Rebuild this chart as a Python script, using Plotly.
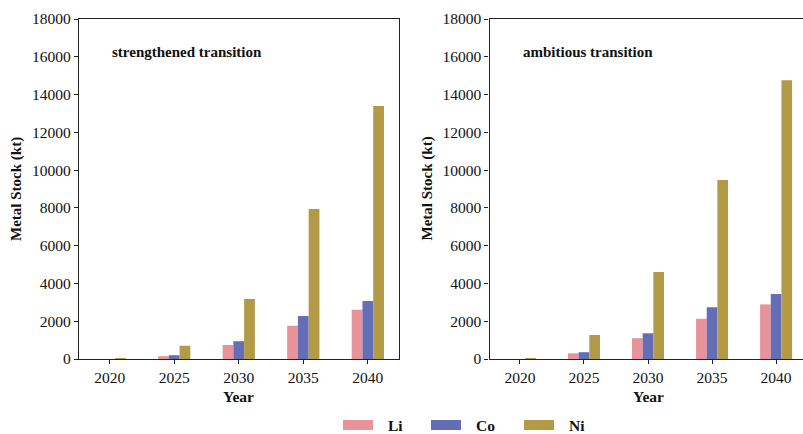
import plotly.graph_objects as go

# Metal stock (kt) by year for two transition scenarios
years = ["2020", "2025", "2030", "2035", "2040"]
metals = ["Li", "Co", "Ni"]
colors = ["#E8939A", "#636EB7", "#B39A46"]

strengthened_li = [0, 150, 740, 1760, 2610]
strengthened_co = [0, 200, 940, 2270, 3070]
strengthened_ni = [30, 700, 3180, 7940, 13390]

ambitious_li = [0, 300, 1100, 2130, 2890]
ambitious_co = [0, 360, 1360, 2740, 3440]
ambitious_ni = [30, 1270, 4600, 9480, 14760]

panels = [
    ("strengthened transition", [strengthened_li, strengthened_co, strengthened_ni]),
    ("ambitious transition", [ambitious_li, ambitious_co, ambitious_ni]),
]

W, H = 803, 434
FONT = "Times New Roman, Liberation Serif, serif"
AX = "#222222"

fig = go.Figure()

# panel pixel boxes: (left, right, top, bottom)
boxes = [(79, 398.5, 19, 359), (489.5, 803, 19, 359)]
xranges = [[-0.475, 4.475], [-0.475, 4.42]]

for i, ((title, series), box) in enumerate(zip(panels, boxes)):
    n = "" if i == 0 else str(i + 1)
    for metal, vals, col in zip(metals, series, colors):
        fig.add_trace(go.Bar(
            x=years, y=vals, name=metal, marker=dict(color=col, line=dict(width=0)),
            xaxis="x" + n, yaxis="y" + n, showlegend=False,
            offsetgroup=metal,
        ))
    l, r, t, b = box
    fig.layout["xaxis" + n] = dict(
        domain=[l / W, r / W], anchor="y" + n, type="category",
        range=xranges[i], showgrid=False, zeroline=False, automargin=False,
        showline=True, linecolor=AX, linewidth=1.2, mirror=True,
        ticks="outside", ticklen=4, tickcolor=AX, tickwidth=1,
        tickfont=dict(family=FONT, size=15.5, color="#111"),
    )
    fig.layout["yaxis" + n] = dict(
        domain=[1 - b / H, 1 - t / H], anchor="x" + n,
        range=[0, 18000], dtick=2000, tickformat="d",
        showgrid=False, zeroline=False, automargin=False,
        showline=True, linecolor=AX, linewidth=1.2, mirror=(i == 0),
        ticks="outside", ticklen=4, tickcolor=AX, tickwidth=1,
        tickfont=dict(family=FONT, size=15.5, color="#111"),
    )
    # panel title
    fig.add_annotation(
        text="<b>" + title + "</b>", xref="paper", yref="paper",
        x=(l + 31) / W, y=1 - 52 / H, xanchor="left", yanchor="middle",
        showarrow=False, font=dict(family=FONT, size=15, color="#111"),
    )
    # axis titles
    fig.add_annotation(
        text="<b>Metal Stock (kt)</b>", xref="paper", yref="paper",
        x=(l - 63) / W, y=1 - 189 / H, textangle=-90,
        xanchor="center", yanchor="middle", showarrow=False,
        font=dict(family=FONT, size=15, color="#111"),
    )
    cx = (l + (398.5 if i == 0 else 806.5)) / 2
    fig.add_annotation(
        text="<b>Year</b>", xref="paper", yref="paper",
        x=cx / W, y=1 - 396 / H, xanchor="center", yanchor="middle",
        showarrow=False, font=dict(family=FONT, size=15.5, color="#111"),
    )

# legend drawn as wide swatches below the panels
leg_x = [343, 431, 524]
for metal, col, x0 in zip(metals, colors, leg_x):
    fig.add_shape(type="rect", xref="paper", yref="paper",
                  x0=x0 / W, x1=(x0 + 30) / W, y0=1 - 430 / H, y1=1 - 420 / H,
                  fillcolor=col, line=dict(width=0))
    fig.add_annotation(text="<b>" + metal + "</b>", xref="paper", yref="paper",
                       x=(x0 + 43) / W, y=1 - 425 / H, xanchor="left", yanchor="middle",
                       showarrow=False, font=dict(family=FONT, size=15.5, color="#111"))

fig.update_layout(
    width=W, height=H, margin=dict(l=0, r=0, t=0, b=0),
    barmode="group", bargap=0.5, bargroupgap=0,
    plot_bgcolor="white", paper_bgcolor="white",
)

fig.write_html("out.html")
